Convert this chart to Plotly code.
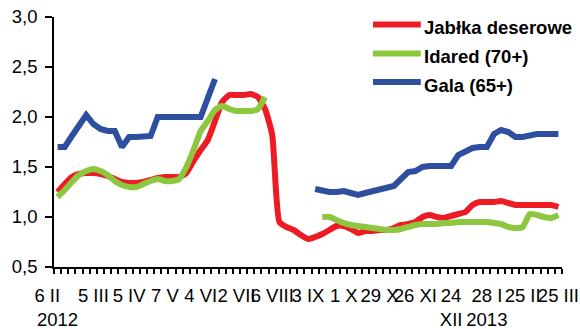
import plotly.graph_objects as go

# ceny tygodniowe (zł/kg), 71 notowań od 6 II 2012 do 25 III 2013
jablka = [1.25, 1.33, 1.40, 1.43, 1.44, 1.44, 1.43, 1.41, 1.38, 1.35,
          1.34, 1.34, 1.35, 1.37, 1.39, 1.40, 1.40, 1.40, 1.44, 1.56,
          1.67, 1.77, 1.96, 2.15, 2.22, 2.22, 2.22, 2.23, 2.20, 2.08,
          1.82, 0.95, 0.90, 0.87, 0.82, 0.78, 0.80, 0.83, 0.87, 0.91,
          0.91, 0.88, 0.84, 0.86, 0.86, 0.87, 0.87, 0.89, 0.92, 0.93,
          0.95, 1.00, 1.02, 1.00, 0.99, 1.01, 1.03, 1.05, 1.12, 1.15,
          1.15, 1.15, 1.16, 1.14, 1.12, 1.12, 1.12, 1.12, 1.12, 1.12,
          1.10]

idared = [1.20, 1.27, 1.35, 1.42, 1.46, 1.48, 1.46, 1.42, 1.36, 1.32,
          1.30, 1.30, 1.33, 1.36, 1.38, 1.36, 1.36, 1.38, 1.50, 1.67,
          1.86, 1.96, 2.07, 2.11, 2.08, 2.06, 2.06, 2.06, 2.08, 2.20,
          None, None, None, None, None, None, None, 1.00, 1.00, 0.97,
          0.94, 0.92, 0.91, 0.90, 0.89, 0.88, 0.87, 0.87, 0.88, 0.90,
          0.92, 0.93, 0.93, 0.93, 0.94, 0.94, 0.95, 0.95, 0.95, 0.95,
          0.95, 0.94, 0.93, 0.90, 0.89, 0.90, 1.03, 1.02, 1.00, 0.99,
          1.02]

gala = [1.70, 1.70, 1.81, 1.92, 2.02, 1.93, 1.88, 1.86, 1.86, 1.70,
        1.80, 1.80, 1.80, 1.81, 2.00, 2.00, 2.00, 2.00, 2.00, 2.00,
        2.00, 2.19, 2.38, None, None, None, None, None, None, None,
        None, None, None, None, None, None, 1.28, 1.26, 1.25, 1.25,
        1.26, 1.24, 1.22, 1.24, 1.26, 1.28, 1.29, 1.31, 1.38, 1.45,
        1.46, 1.50, 1.51, 1.51, 1.51, 1.51, 1.62, 1.66, 1.69, 1.70,
        1.70, 1.83, 1.87, 1.85, 1.80, 1.80, 1.82, 1.83, 1.83, 1.83,
        1.83]

# co piąte notowanie podpisane na osi
tick_labels = ["6 II\u00a0\u00a0\u00a0\u00a0<br>2012", "5 III", "5 IV", "7 V", "4 VI", "2 VII",
               "6 VIII", "3 IX", "1 X", "29 X", "26 XI", "24<br>XII",
               "28 I<br>2013", "25 II", "25 III"]

series = [
    ("Jabłka deserowe", jablka, "#ED1C24", "spline"),
    ("Idared (70+)", idared, "#8DC63F", "spline"),
    ("Gala (65+)", gala, "#2E4F9F", "linear"),
]

FONT = "Liberation Sans, Arial, sans-serif"
x = list(range(len(jablka)))

fig = go.Figure()
for name, vals, color, shape in series:
    fig.add_trace(go.Scatter(
        x=x, y=vals, mode="lines", name=name,
        line=dict(color=color, width=6, shape=shape, smoothing=0.5),
        connectgaps=False, showlegend=False,
    ))

# legenda rysowana ręcznie (dłuższe próbki linii jak w oryginale)
legend_rows = [0.97, 0.854, 0.74]
for (name, vals, color, shape), ly in zip(series, legend_rows):
    fig.add_shape(type="line", xref="paper", yref="paper",
                  x0=0.628, x1=0.722, y0=ly, y1=ly,
                  line=dict(color=color, width=6))
    fig.add_annotation(text=f"<b>{name}</b>", xref="paper", yref="paper",
                       x=0.725, y=ly - 0.012, xanchor="left", yanchor="middle",
                       showarrow=False, font=dict(size=18.5, color="black", family=FONT))

fig.update_layout(
    width=580, height=329,
    margin=dict(l=54, r=18, t=17, b=62),
    paper_bgcolor="white", plot_bgcolor="white",
    font=dict(family=FONT, size=18.5, color="black"),
    separators=", ",
    xaxis=dict(
        range=[-0.5, len(x) - 0.5],
        tickmode="array", tickvals=list(range(0, len(x), 5)), ticktext=tick_labels,
        ticks="", ticklabelstandoff=11, tickangle=0, automargin=False,
        showline=True, linecolor="black", linewidth=1.5,
        showgrid=False, zeroline=False,
        minor=dict(ticks="outside", ticklen=5, tickwidth=1.5, tickcolor="black",
                   tickmode="array", tickvals=[i - 0.5 for i in range(len(x) + 1)]),
    ),
    yaxis=dict(
        range=[0.5, 3.0], dtick=0.5, tick0=0.5, tickformat=".1f",
        ticks="outside", ticklen=7, tickwidth=1.5, tickcolor="black",
        ticklabelstandoff=4, automargin=False,
        showline=True, linecolor="black", linewidth=1.5,
        showgrid=False, zeroline=False,
    ),
)

fig.write_html("out.html", config={"displayModeBar": False},
               post_script="document.body.style.margin='0';")
